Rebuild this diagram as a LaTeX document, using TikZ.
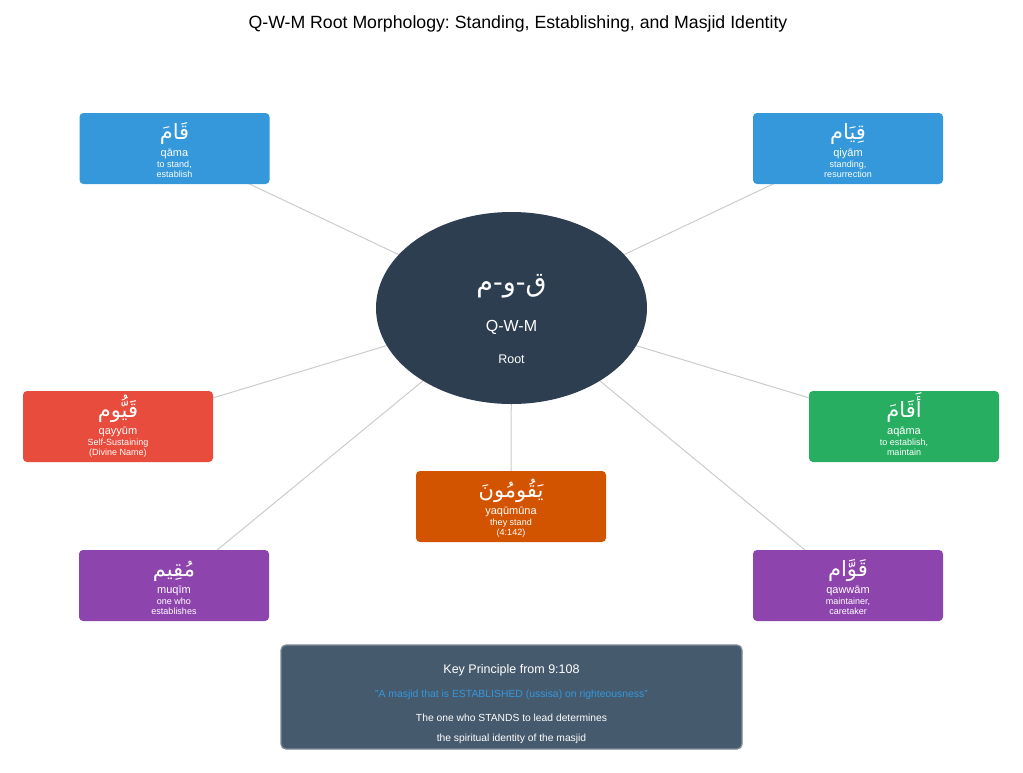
\documentclass[tikz,border=0pt]{standalone}
\usepackage{fontspec}
\setmainfont{Liberation Sans}
\newfontfamily\arabicfont[Script=Arabic]{DejaVu Sans}
\TeXXeTstate=1
\frenchspacing
\usetikzlibrary{backgrounds,shapes.geometric}
\definecolor{cblue}{HTML}{3498DB}
\definecolor{cred}{HTML}{E74C3C}
\definecolor{cgreen}{HTML}{27AE60}
\definecolor{corange}{HTML}{D35400}
\definecolor{cpurple}{HTML}{8E44AD}
\definecolor{cdark}{HTML}{2C3E50}
\definecolor{ckey}{HTML}{465A6E}
\definecolor{ckeyborder}{HTML}{7F8A94}
\definecolor{cline}{HTML}{CCCCCC}
\tikzset{
  wordbox/.style={rectangle, rounded corners=4pt, minimum width=190pt, minimum height=71pt, draw=none, inner sep=0pt},
  artext/.style={anchor=base, inner sep=0pt, text=white, font=\arabicfont\fontsize{21}{24}\selectfont},
  trtext/.style={anchor=base, inner sep=0pt, text=white, font=\fontsize{11}{13}\selectfont},
  smtext/.style={anchor=base, inner sep=0pt, text=white, font=\fontsize{9}{10}\selectfont},
  conn/.style={draw=cline, line width=1pt},
}
\newcommand\wordentry[8]{%
  \node[wordbox, fill=#4] (#1) at (#2,#3) {};
  \node[artext] (#1-ar) at (#2,#3-9.5) {\beginR #5\endR};
  \node[trtext] (#1-tr) at (#2,#3+8.4) {#6};
  \node[smtext] (#1-la) at (#2,#3+18.9) {#7};
  \node[smtext] (#1-lb) at (#2,#3+28.6) {#8};
}
\begin{document}
\begin{tikzpicture}[x=1pt,y=-1pt]
\useasboundingbox (0,0) rectangle (1023,772);

\node[anchor=base, inner sep=0pt, font=\fontsize{17.7}{20}\selectfont] (title) at (518,28) {Q-W-M Root Morphology: Standing, Establishing, and Masjid Identity};

\node[ellipse, fill=cdark, minimum width=271pt, minimum height=192pt, inner sep=0pt] (root) at (511.5,308) {};
\node[anchor=base, inner sep=0pt, text=white, font=\arabicfont\fontsize{27}{30}\selectfont] (root-ar) at (511.5,291.7) {\beginR ق-و-م\endR};
\node[anchor=base, inner sep=0pt, text=white, font=\fontsize{16}{19}\selectfont] (root-en) at (511.5,331.7) {Q-W-M};
\node[anchor=base, inner sep=0pt, text=white, font=\fontsize{12.5}{15}\selectfont] (root-lb) at (511.5,363) {Root};

\wordentry{b1}{174.5}{148.5}{cblue}{قَامَ}{qāma}{to stand,}{establish}
\wordentry{b2}{848}{148.5}{cblue}{قِيَام}{qiyām}{standing,}{resurrection}
\wordentry{b3}{118}{426.5}{cred}{قَيُّوم}{qayyūm}{Self-Sustaining}{(Divine Name)}
\wordentry{b4}{904}{426.5}{cgreen}{أَقَامَ}{aqāma}{to establish,}{maintain}
\wordentry{b5}{511}{506.5}{corange}{يَقُومُونَ}{yaqūmūna}{they stand}{(4:142)}
\wordentry{b6}{174}{585.5}{cpurple}{مُقِيم}{muqīm}{one who}{establishes}
\wordentry{b7}{848}{585.5}{cpurple}{قَوَّام}{qawwām}{maintainer,}{caretaker}

\node[rectangle, rounded corners=5pt, fill=ckey, draw=ckeyborder, line width=1.3pt, minimum width=461pt, minimum height=104pt, inner sep=0pt] (key) at (511.5,697) {};
\node[anchor=base, inner sep=0pt, text=white, font=\fontsize{12.5}{15}\selectfont] (key-h) at (511.5,673) {Key Principle from 9:108};
\node[anchor=base, inner sep=0pt, text=cblue, font=\fontsize{10.4}{12}\selectfont] (key-q) at (511.5,697.3) {"A masjid that is ESTABLISHED (ussisa) on righteousness"};
\node[anchor=base, inner sep=0pt, text=white, font=\fontsize{10.3}{12}\selectfont] (key-a) at (511.5,721) {The one who STANDS to lead determines};
\node[anchor=base, inner sep=0pt, text=white, font=\fontsize{10.3}{12}\selectfont] (key-b) at (511.5,741) {the spiritual identity of the masjid};

\begin{scope}[on background layer]
  \fill[white] (0,0) rectangle (1023,772);
  \draw[conn] (b1.center) -- (root.center);
  \draw[conn] (b2.center) -- (root.center);
  \draw[conn] (b3.center) -- (root.center);
  \draw[conn] (b4.center) -- (root.center);
  \draw[conn] (b5.center) -- (root.center);
  \draw[conn] (b6.center) -- (root.center);
  \draw[conn] (b7.center) -- (root.center);
\end{scope}
\end{tikzpicture}
\end{document}
